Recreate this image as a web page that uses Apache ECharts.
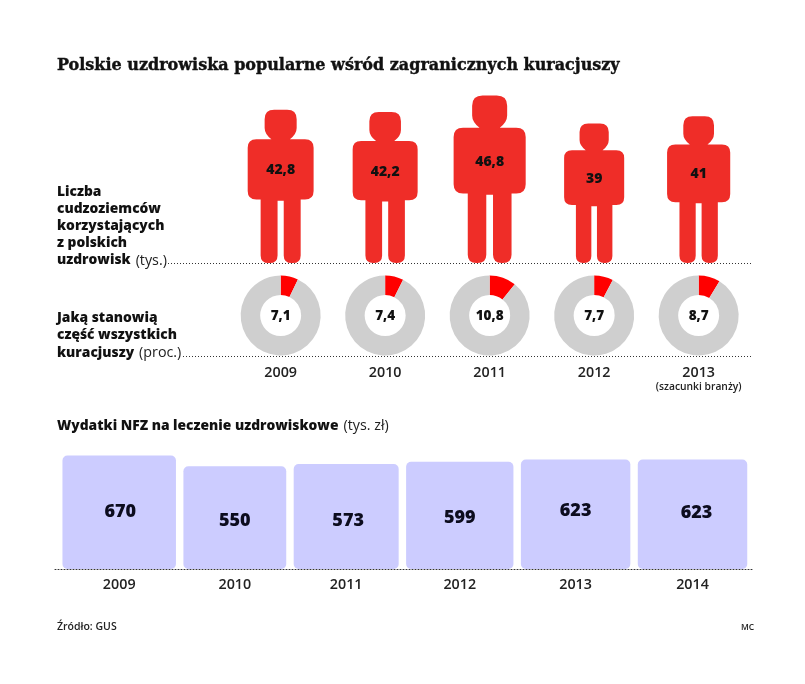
<!DOCTYPE html>
<html>
<head>
<meta charset="utf-8">
<style>
  html, body { margin: 0; padding: 0; background: #fff; }
  #chart { width: 805px; height: 684px; }
</style>
<script src="https://cdn.jsdelivr.net/npm/echarts@6/dist/echarts.min.js"></script>
</head>
<body>
<div id="chart"></div>
<script>
var years = ['2009', '2010', '2011', '2012', '2013'];
var foreigners = [42.8, 42.2, 46.8, 39, 41];
var shares = [7.1, 7.4, 10.8, 7.7, 8.7];
var nfzYears = ['2009', '2010', '2011', '2012', '2013', '2014'];
var nfzSpending = [670, 550, 573, 599, 623, 623];

var FONT = '"Open Sans", sans-serif';
var DOTS = [1, 2];
var HUMAN = 'path://M86 0H128Q159 0 159 31V60Q159 80 137 97H186Q214 97 214 125V267Q214 295 186 295H172V479Q172 504 146 504H143Q117 504 117 479V299H97V479Q97 504 71 504H68Q42 504 42 479V295H28Q0 295 0 267V125Q0 97 28 97H77Q55 80 55 60V31Q55 0 86 0Z';

// people: width and height both grow with the value
var HUMAN_WIDTH_PER_UNIT = 1.54;
// donut columns share the people's grid
var gridLeft = 228.4, gridWidth = 522.5;
// hand placed block labels in the original, px from the block centre
var blockLabelNudge = [[1, 0], [0, 3], [2, 4], [0, 3], [0, -3], [4, -1]];

function decimal(v) { return String(v).replace('.', ','); }

// NFZ blocks are squares with area proportional to the value, so the side
// is sqrt(value) and both axes run in sqrt units
var blockSides = nfzSpending.map(function (v) { return Math.sqrt(v); });
var blockGap = 1.7, blockStart = 1.7;
var blockCentres = [];
blockSides.reduce(function (x, side) {
    blockCentres.push(x + side / 2);
    return x + side + blockGap;
}, blockStart);
var sideMax = blockSides[0];

function textBlock(left, top, text, lineHeight) {
    return {
        left: left, top: top, text: text, padding: 0,
        textStyle: {
            rich: {
                b: { fontFamily: FONT, fontSize: 13.8, fontWeight: 800, color: '#111', lineHeight: lineHeight },
                r: { fontFamily: FONT, fontSize: 14.3, fontWeight: 400, color: '#222', lineHeight: lineHeight }
            }
        }
    };
}

function rule(x1, x2, y) {
    return {
        type: 'line', silent: true,
        shape: { x1: x1, y1: y, x2: x2, y2: y },
        style: { stroke: '#333', lineWidth: 1, lineDash: DOTS }
    };
}

var series = [
    {
        type: 'pictorialBar',
        xAxisIndex: 0, yAxisIndex: 0,
        symbol: HUMAN,
        symbolPosition: 'start',
        z: 3,
        data: foreigners.map(function (v) {
            return { value: v, symbolSize: [v * HUMAN_WIDTH_PER_UNIT, '100%'] };
        }),
        itemStyle: { color: '#ef2d28' },
        label: {
            show: true,
            position: ['50%', '39.6%'],
            align: 'center',
            verticalAlign: 'middle',
            fontFamily: FONT,
            fontSize: 14,
            fontWeight: 800,
            color: '#111',
            formatter: function (p) { return decimal(p.value); }
        }
    },
    {
        type: 'custom',
        xAxisIndex: 2, yAxisIndex: 2,
        data: nfzSpending.map(function (v, i) { return [blockCentres[i], blockSides[i], v]; }),
        encode: { x: 0, y: 1 },
        renderItem: function (params, api) {
            var cx = api.value(0), side = api.value(1);
            var a = api.coord([cx - side / 2, side]);
            var b = api.coord([cx + side / 2, 0]);
            var nudge = blockLabelNudge[params.dataIndex];
            return {
                type: 'group',
                children: [
                    {
                        type: 'rect',
                        shape: { x: a[0], y: a[1], width: b[0] - a[0], height: b[1] - a[1], r: 5 },
                        style: { fill: '#ccccff' }
                    },
                    {
                        type: 'text',
                        style: {
                            x: (a[0] + b[0]) / 2 + nudge[0], y: (a[1] + b[1]) / 2 + nudge[1],
                            text: String(api.value(2)),
                            align: 'center', verticalAlign: 'middle',
                            font: '800 18px ' + FONT,
                            fill: '#0c0c1e'
                        }
                    }
                ]
            };
        }
    }
];

shares.forEach(function (s, i) {
    series.push({
        type: 'pie',
        center: [gridLeft + gridWidth * (i + 0.5) / years.length, 315.5],
        radius: [20.5, 40],
        startAngle: 90,
        clockwise: true,
        silent: true,
        avoidLabelOverlap: false,
        label: {
            show: true,
            position: 'center',
            offset: [0, 1],
            fontFamily: FONT,
            fontSize: 13.5,
            fontWeight: 800,
            color: '#111',
            formatter: function () { return decimal(s); }
        },
        labelLine: { show: false },
        data: [
            { value: s, itemStyle: { color: '#ff0000' } },
            { value: 100 - s, itemStyle: { color: '#cfcfcf' } }
        ]
    });
});

var option = {
    backgroundColor: '#fff',
    animation: false,
    title: [
        {
            left: 57, top: 58, padding: 0,
            text: 'Polskie uzdrowiska popularne wśród zagranicznych kuracjuszy',
            textStyle: {
                fontFamily: '"DejaVu Serif", serif', fontSize: 16, fontWeight: 700, color: '#111',
                textBorderColor: '#111', textBorderWidth: 0.4
            }
        },
        textBlock(57, 183.5, '{b|Liczba}\n{b|cudzoziemców}\n{b|korzystających}\n{b|z polskich}\n{b|uzdrowisk} {r|(tys.)}', 17),
        textBlock(57, 309, '{b|Jaką stanowią}\n{b|część wszystkich}\n{b|kuracjuszy} {r|(proc.)}', 17.5),
        textBlock(57, 417, '{b|Wydatki NFZ na leczenie uzdrowiskowe} {r|(tys. zł)}', 18),
        {
            left: 57, top: 622, padding: 0, text: 'Źródło: GUS',
            textStyle: { fontFamily: FONT, fontSize: 10.5, fontWeight: 600, color: '#222' }
        },
        {
            left: 741, top: 623, padding: 0, text: 'MC',
            textStyle: { fontFamily: FONT, fontSize: 8.5, fontWeight: 600, color: '#222' }
        }
    ],
    grid: [
        { left: gridLeft, width: gridWidth, top: 84, height: 179 },
        { left: gridLeft, width: gridWidth, top: 276, height: 80 },
        { left: 55, width: 697, top: 455.5, height: 113.5 }
    ],
    xAxis: [
        { gridIndex: 0, type: 'category', data: years, show: false },
        {
            gridIndex: 1, type: 'category', data: years,
            axisLine: { show: false },
            axisTick: { show: false },
            axisLabel: {
                margin: 9,
                interval: 0,
                formatter: function (v) {
                    return v === '2013' ? '{y|' + v + '}\n{s|(szacunki branży)}' : '{y|' + v + '}';
                },
                rich: {
                    y: { fontFamily: FONT, fontSize: 14.3, fontWeight: 600, color: '#222', lineHeight: 16 },
                    s: { fontFamily: FONT, fontSize: 10.3, fontWeight: 600, color: '#222', lineHeight: 13 }
                }
            }
        },
        {
            gridIndex: 2, type: 'value', min: 0, max: 697 / (113.5 / sideMax),
            splitLine: { show: false },
            axisLine: { show: true, onZero: false, lineStyle: { color: '#333', width: 1, type: DOTS } },
            axisTick: { show: false },
            axisLabel: {
                customValues: blockCentres,
                margin: 9,
                fontFamily: FONT, fontSize: 14.3, fontWeight: 600, color: '#222',
                formatter: function (v) { return nfzYears[blockCentres.indexOf(v)]; }
            }
        }
    ],
    yAxis: [
        { gridIndex: 0, type: 'value', min: 0, max: 50, show: false },
        { gridIndex: 1, type: 'value', min: 0, max: 1, show: false },
        { gridIndex: 2, type: 'value', min: 0, max: sideMax, show: false }
    ],
    graphic: [rule(168, 752, 263.5), rule(183, 752, 356.5)],
    series: series
};

var chart = echarts.init(document.getElementById('chart'));
chart.setOption(option);
</script>
</body>
</html>
